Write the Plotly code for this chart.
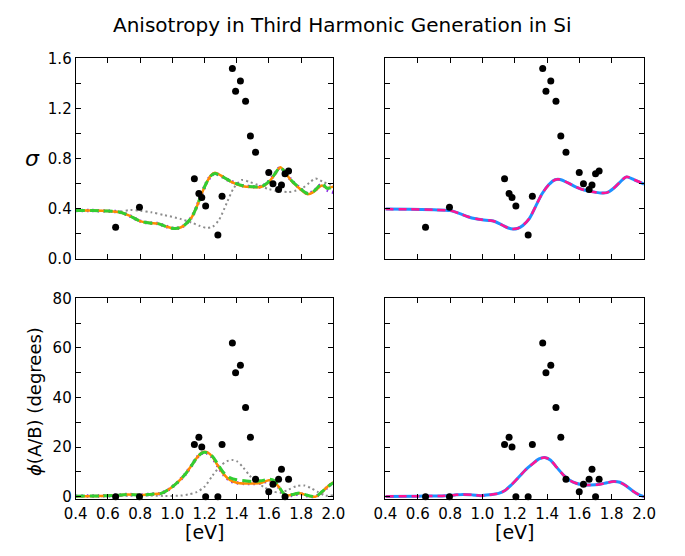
import plotly.graph_objects as go

# ---- measured anisotropy (black points) ----
exp_energy = [0.648, 0.796, 1.137, 1.165, 1.183, 1.207, 1.283, 1.309, 1.373, 1.393,
              1.423, 1.455, 1.485, 1.517, 1.599, 1.625, 1.660, 1.678, 1.700, 1.722]
exp_sigma = [0.25, 0.41, 0.638, 0.52, 0.489, 0.42, 0.188, 0.499, 1.518, 1.338,
             1.42, 1.258, 0.98, 0.849, 0.689, 0.599, 0.553, 0.589, 0.679, 0.70]
exp_phi = [0, 0, 21, 24, 20, 0, 0, 21, 62, 50,
           53, 36, 24, 7, 2, 5, 7, 11, 0, 7]

# ---- sigma, left panel models ----
sig_e = [0.40, 0.50, 0.60, 0.67, 0.73, 0.80, 0.86, 0.91, 0.96, 1.00, 1.03, 1.07,
         1.12, 1.15, 1.18, 1.21, 1.24, 1.265, 1.30, 1.36, 1.44, 1.50, 1.55, 1.59,
         1.63, 1.67, 1.70, 1.74, 1.79, 1.84, 1.88, 1.93, 1.96, 2.00]
sig_orange = [0.385, 0.384, 0.380, 0.372, 0.345, 0.300, 0.285, 0.280, 0.258, 0.243, 0.242, 0.262,
              0.330, 0.410, 0.510, 0.600, 0.665, 0.687, 0.665, 0.618, 0.578, 0.572, 0.572, 0.600,
              0.660, 0.730, 0.690, 0.620, 0.560, 0.515, 0.535, 0.585, 0.565, 0.575]
sig_green = [0.385, 0.384, 0.380, 0.372, 0.345, 0.300, 0.285, 0.280, 0.258, 0.243, 0.242, 0.262,
             0.330, 0.410, 0.510, 0.600, 0.662, 0.680, 0.662, 0.620, 0.582, 0.575, 0.575, 0.605,
             0.665, 0.728, 0.690, 0.625, 0.565, 0.520, 0.540, 0.600, 0.562, 0.575]
sig_purple = [0.385, 0.384, 0.380, 0.372, 0.345, 0.300, 0.285, 0.280, 0.258, 0.243, 0.242, 0.262,
              0.330, 0.410, 0.510, 0.600, 0.662, 0.680, 0.662, 0.620, 0.582, 0.575, 0.575, 0.605,
              0.665, 0.728, 0.690, 0.625, 0.565, 0.520, 0.540, 0.595, 0.550, 0.530]

sig_gray_e = [0.40, 0.50, 0.60, 0.67, 0.74, 0.80, 0.87, 0.95, 1.05, 1.12, 1.17, 1.21, 1.25,
              1.29, 1.34, 1.38, 1.43, 1.48, 1.53, 1.60, 1.66, 1.72, 1.77, 1.81, 1.85, 1.89,
              1.94, 2.00]
sig_gray = [0.385, 0.384, 0.380, 0.376, 0.388, 0.383, 0.370, 0.348, 0.318, 0.288, 0.262, 0.246,
            0.255, 0.310, 0.450, 0.560, 0.628, 0.612, 0.590, 0.555, 0.540, 0.532, 0.545, 0.565,
            0.605, 0.640, 0.610, 0.585]

# ---- sigma, right panel models ----
sig_r_e = [0.40, 0.55, 0.70, 0.80, 0.86, 0.91, 0.96, 1.00, 1.05, 1.08, 1.12, 1.16, 1.19, 1.22,
           1.25, 1.29, 1.33, 1.37, 1.41, 1.45, 1.48, 1.53, 1.58, 1.63, 1.68, 1.73, 1.77, 1.81,
           1.85, 1.89, 1.94, 2.00]
sig_r = [0.396, 0.394, 0.390, 0.384, 0.360, 0.335, 0.318, 0.310, 0.304, 0.295, 0.270, 0.245,
         0.237, 0.243, 0.265, 0.320, 0.420, 0.520, 0.590, 0.630, 0.632, 0.605, 0.572, 0.548,
         0.535, 0.525, 0.527, 0.560, 0.610, 0.653, 0.630, 0.595]

# ---- phi, left panel models ----
phi_e = [0.40, 0.55, 0.65, 0.72, 0.80, 0.87, 0.93, 0.98, 1.03, 1.08, 1.12, 1.15, 1.18, 1.20,
         1.22, 1.25, 1.28, 1.32, 1.36, 1.40, 1.45, 1.50, 1.55, 1.60, 1.63, 1.66, 1.69, 1.71,
         1.75, 1.79, 1.83, 1.86, 1.89, 1.93, 1.97, 2.00]
phi_orange = [0.2, 0.3, 0.5, 0.9, 0.6, 1.0, 1.3, 3.0, 5.6, 9.0, 12.6, 15.5, 17.6, 18.1,
              17.8, 16.0, 12.8, 9.0, 6.6, 5.6, 5.3, 5.3, 5.5, 6.6, 6.2, 4.0, 1.2, 0.5,
              0.8, 1.4, 0.6, 0.1, 0.0, 1.9, 4.4, 5.8]
phi_green = [0.2, 0.3, 0.5, 0.9, 0.6, 1.0, 1.3, 3.0, 5.6, 9.0, 12.6, 15.5, 17.4, 17.9,
             17.6, 16.2, 13.4, 9.6, 7.6, 6.8, 6.4, 6.1, 6.4, 7.0, 6.6, 4.2, 1.3, 0.6,
             0.9, 1.5, 0.7, 0.2, 0.0, 2.0, 4.2, 5.6]
phi_purple = [0.2, 0.3, 0.5, 0.9, 0.6, 1.0, 1.3, 3.0, 5.6, 9.0, 12.6, 15.5, 17.4, 17.8,
              17.4, 15.8, 12.6, 8.8, 6.4, 5.6, 5.3, 5.3, 5.5, 6.4, 6.0, 3.8, 1.0, 0.3,
              0.6, 1.2, 0.5, 0.0, 0.0, 1.8, 4.2, 5.6]

phi_gray_e = [0.40, 0.60, 0.80, 0.95, 1.05, 1.10, 1.15, 1.20, 1.25, 1.30, 1.34, 1.37, 1.40,
              1.44, 1.48, 1.52, 1.57, 1.62, 1.67, 1.72, 1.77, 1.82, 1.86, 1.90, 1.95, 2.00]
phi_gray = [0.1, 0.2, 0.5, 0.3, 0.4, 0.9, 1.8, 4.0, 8.5, 12.5, 14.3, 14.8, 14.3,
            11.8, 8.5, 6.0, 3.8, 2.2, 1.6, 2.8, 4.2, 4.5, 3.5, 2.0, 0.4, 0.6]

# ---- phi, right panel models ----
phi_r_e = [0.40, 0.60, 0.75, 0.82, 0.88, 0.94, 0.99, 1.05, 1.10, 1.14, 1.18, 1.23, 1.27, 1.31,
           1.35, 1.385, 1.42, 1.46, 1.50, 1.54, 1.58, 1.62, 1.67, 1.72, 1.77, 1.81, 1.85, 1.89,
           1.93, 1.97, 2.00]
phi_r = [0.1, 0.2, 0.3, 0.6, 0.9, 0.7, 0.4, 0.8, 1.3, 2.5, 4.8, 8.2, 11.0, 13.2,
         15.2, 15.8, 14.8, 11.8, 8.8, 6.6, 5.4, 4.8, 4.7, 4.9, 5.6, 6.1, 5.8, 4.3,
         2.3, 0.7, 0.0]

x_ticks = [0.4, 0.6, 0.8, 1.0, 1.2, 1.4, 1.6, 1.8, 2.0]
x_ticktext = ["0.4", "0.6", "0.8", "1.0", "1.2", "1.4", "1.6", "1.8", "2.0"]
sig_ticks = [0.0, 0.2, 0.4, 0.6, 0.8, 1.0, 1.2, 1.4, 1.6]
sig_ticktext = ["0.0", "", "0.4", "", "0.8", "", "1.2", "", "1.6"]
phi_ticks = [0, 10, 20, 30, 40, 50, 60, 70, 80]
phi_ticktext = ["0", "", "20", "", "40", "", "60", "", "80"]

W, H = 685, 556
FONT = "DejaVu Sans"

fig = go.Figure()

# axis ids: 1 = top-left, 2 = top-right, 3 = bottom-left, 4 = bottom-right
def ax(n):
    return ("x" if n == 1 else f"x{n}"), ("y" if n == 1 else f"y{n}")

def line(n, xs, ys, color, width, dash="solid"):
    xa, ya = ax(n)
    fig.add_trace(go.Scatter(x=xs, y=ys, mode="lines", xaxis=xa, yaxis=ya,
                             line=dict(color=color, width=width, dash=dash,
                                       shape="spline", smoothing=0.8),
                             showlegend=False, hoverinfo="skip"))

def dots(n, xs, ys):
    xa, ya = ax(n)
    fig.add_trace(go.Scatter(x=xs, y=ys, mode="markers", xaxis=xa, yaxis=ya,
                             marker=dict(color="black", size=7, line=dict(width=0)),
                             showlegend=False, cliponaxis=False))

GRAY = "#8c8c8c"
PURPLE = "#8a2be2"
GREEN = "#32cd32"
ORANGE = "#ff8c00"
BLUE = "#1e90ff"
PINK = "#ff1493"

# top-left
line(1, sig_gray_e, sig_gray, GRAY, 2, "2px,3px")
line(1, sig_e, sig_purple, PURPLE, 3.5, "1.5px,4px")
line(1, sig_e, sig_orange, ORANGE, 2.5)
line(1, sig_e, sig_green, GREEN, 3, "9px,5px")
dots(1, exp_energy, exp_sigma)
# top-right
line(2, sig_r_e, sig_r, BLUE, 3)
line(2, sig_r_e, sig_r, PINK, 2.5, "8px,5px")
dots(2, exp_energy, exp_sigma)
# bottom-left
line(3, phi_gray_e, phi_gray, GRAY, 2, "2px,3px")
line(3, phi_e, phi_purple, PURPLE, 3.5, "1.5px,4px")
line(3, phi_e, phi_orange, ORANGE, 2.5)
line(3, phi_e, phi_green, GREEN, 3, "9px,5px")
dots(3, exp_energy, exp_phi)
# bottom-right
line(4, phi_r_e, phi_r, BLUE, 3)
line(4, phi_r_e, phi_r, PINK, 2.5, "8px,5px")
dots(4, exp_energy, exp_phi)

# panel placement in pixels: (left, right, top, bottom)
boxes = {1: (66, 333, 51, 258), 2: (387, 655, 51, 258),
         3: (66, 333, 299, 506), 4: (387, 655, 299, 506)}

common = dict(showline=True, linecolor="black", linewidth=1, mirror="allticks",
              ticks="inside", ticklen=5, tickwidth=1, tickcolor="black",
              showgrid=False, zeroline=False,
              tickfont=dict(family=FONT, size=15, color="black"))

layout = {}
for n, (l, r, t, b) in boxes.items():
    xa, ya = ax(n)
    xkey = "xaxis" if n == 1 else f"xaxis{n}"
    ykey = "yaxis" if n == 1 else f"yaxis{n}"
    bottom_row = n in (3, 4)
    left_col = n in (1, 3)
    layout[xkey] = dict(common, domain=[l / W, r / W], anchor=ya, range=[0.4, 2.0],
                        tickmode="array", tickvals=x_ticks, ticklabelstandoff=1,
                        ticktext=x_ticktext if bottom_row else [""] * len(x_ticks))
    if n in (1, 2):
        yr, tv, tt = [0, 1.6], sig_ticks, sig_ticktext
    else:
        yr, tv, tt = [-0.8, 80], phi_ticks, phi_ticktext
    layout[ykey] = dict(common, domain=[1 - b / H, 1 - t / H], anchor=xa, range=yr,
                        tickmode="array", tickvals=tv,
                        ticktext=tt if left_col else [""] * len(tv))

fig.update_layout(**layout)

annotations = [
    dict(text="Anisotropy in Third Harmonic Generation in Si", x=342 / W, y=1 - 17 / H,
         font=dict(family=FONT, size=20, color="black")),
    dict(text="<i>σ</i>", x=21 / W, y=1 - 155 / H, font=dict(family=FONT, size=22, color="black")),
    dict(text="<i>ϕ</i>(A/B) (degrees)", x=24 / W, y=1 - 406 / H, textangle=-90,
         font=dict(family=FONT, size=18, color="black")),
    dict(text="[eV]", x=200 / W, y=1 - 540 / H, font=dict(family=FONT, size=19, color="black")),
    dict(text="[eV]", x=521 / W, y=1 - 540 / H, font=dict(family=FONT, size=19, color="black")),
]
for a in annotations:
    a.update(xref="paper", yref="paper", showarrow=False, xanchor="center", yanchor="middle")

fig.update_layout(width=W, height=H, margin=dict(l=0, r=0, t=0, b=0),
                  paper_bgcolor="white", plot_bgcolor="white",
                  annotations=annotations, font=dict(family=FONT))

fig.write_html("out.html")
